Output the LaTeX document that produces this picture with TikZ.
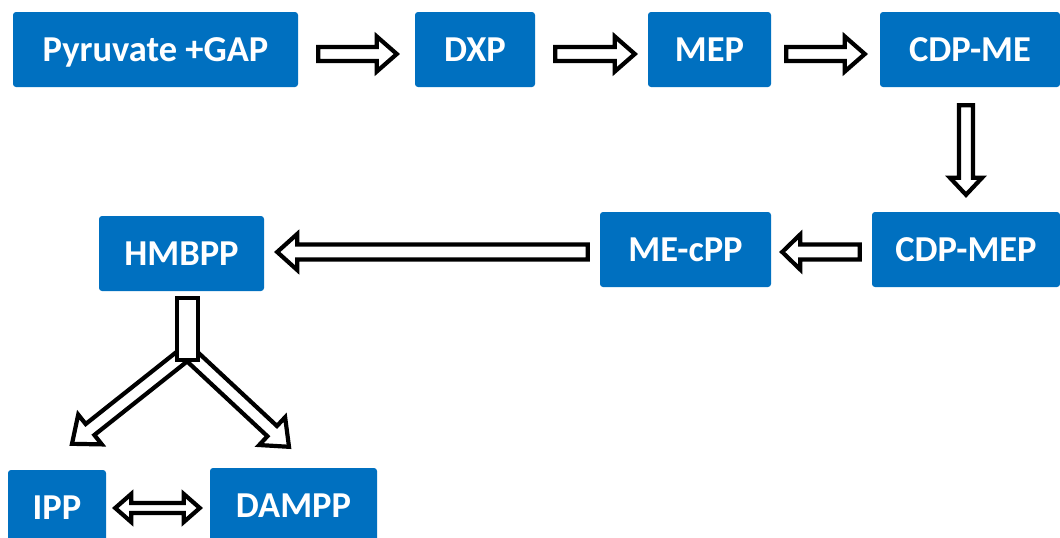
\documentclass[tikz,border=0pt]{standalone}
\usepackage{fontspec}
\setmainfont{Carlito}
\usetikzlibrary{calc}
\definecolor{boxblue}{HTML}{0070C0}

\begin{document}
\begin{tikzpicture}[x=1pt,y=-1pt,
  box/.style={fill=boxblue,rounded corners=3,text=white,inner sep=0,
    minimum height=75,text height=24,text depth=0,
    font=\fontsize{36.5}{40}\selectfont\bfseries},
  flow/.style={draw=black,fill=white,line width=4.2}]
\useasboundingbox (0,0) rectangle (1060,538);

% pathway steps
\node[box,minimum width=285] (pyr) at (155.5,49.5) {Pyruvate +GAP};
\node[box,minimum width=120] (dxp) at (475,49.5) {DXP};
\node[box,minimum width=123] (mep) at (709.5,49.5) {MEP};
\node[box,minimum width=180] (cdpme) at (970,49.5) {CDP-ME};
\node[box,minimum width=188] (cdpmep) at (966,249.5) {CDP-MEP};
\node[box,minimum width=171] (mecpp) at (685.5,249.5) {ME-cPP};
\node[box,minimum width=165] (hmbpp) at (181.5,253.5) {HMBPP};
\node[box,minimum width=98] (ipp) at (57,507.5) {IPP};
\node[box,minimum width=167] (dampp) at (293.5,505.5) {DAMPP};

% arrow ends
\coordinate (a1s) at ([shift={(20,4.5)}]pyr.east);
\coordinate (a1e) at ([shift={(-18,4.5)}]dxp.west);
\coordinate (a2s) at ([shift={(20,4.5)}]dxp.east);
\coordinate (a2e) at ([shift={(-13,4.5)}]mep.west);
\coordinate (a3s) at ([shift={(15,4.5)}]mep.east);
\coordinate (a3e) at ([shift={(-15,4.5)}]cdpme.west);
\coordinate (a4s) at ([shift={(-4,18)}]cdpme.south);
\coordinate (a4e) at ([shift={(0,-17)}]cdpmep.north);
\coordinate (a5s) at ([shift={(-12,2.5)}]cdpmep.west);
\coordinate (a5e) at ([shift={(11,2.5)}]mecpp.east);
\coordinate (a6s) at ([shift={(-12,2.5)}]mecpp.west);
\coordinate (a6e) at ([shift={(13,-1.5)}]hmbpp.east);
\coordinate (fork) at ([shift={(6,61)}]hmbpp.south);
\coordinate (a7e) at ([shift={(15,-26)}]ipp.north);
\coordinate (a8e) at ([shift={(-4.5,-21)}]dampp.north);

% block arrows: start/end/shaft/head/head length
\foreach \from/\to/\sw/\hw/\hl in {a1s/a1e/7pt/17.5pt/20pt,
    a2s/a2e/7pt/17.5pt/20pt, a3s/a3e/7pt/17.5pt/20pt,
    a4s/a4e/7pt/16pt/17pt, a5s/a5e/7.5pt/17.5pt/18pt,
    a6s/a6e/7.5pt/18pt/20pt, fork/a7e/7pt/19pt/23pt,
    fork/a8e/7pt/19pt/23pt}{
  \coordinate (hb) at ($(\to)!\hl!(\from)$);
  \draw[flow] ($(\from)!\sw!90:(\to)$) -- ($(hb)!\sw!90:(\to)$)
    -- ($(hb)!\hw!90:(\to)$) -- (\to) -- ($(hb)!\hw!-90:(\to)$)
    -- ($(hb)!\sw!-90:(\to)$) -- ($(\from)!\sw!-90:(\to)$) -- cycle;
}

% stem of the split
\draw[flow] ([shift={(-4.5,7)}]hmbpp.south) rectangle ([shift={(16.5,69)}]hmbpp.south);

% IPP <-> DAMPP
\coordinate (dl) at ([shift={(9,0.5)}]ipp.east);
\coordinate (dr) at ([shift={(-10,2.5)}]dampp.west);
\draw[flow] (dl) -- ([shift={(16,-14)}]dl) -- ([shift={(16,-5)}]dl)
  -- ([shift={(-16,-5)}]dr) -- ([shift={(-16,-14)}]dr) -- (dr)
  -- ([shift={(-16,14)}]dr) -- ([shift={(-16,5)}]dr)
  -- ([shift={(16,5)}]dl) -- ([shift={(16,14)}]dl) -- cycle;
\end{tikzpicture}
\end{document}
